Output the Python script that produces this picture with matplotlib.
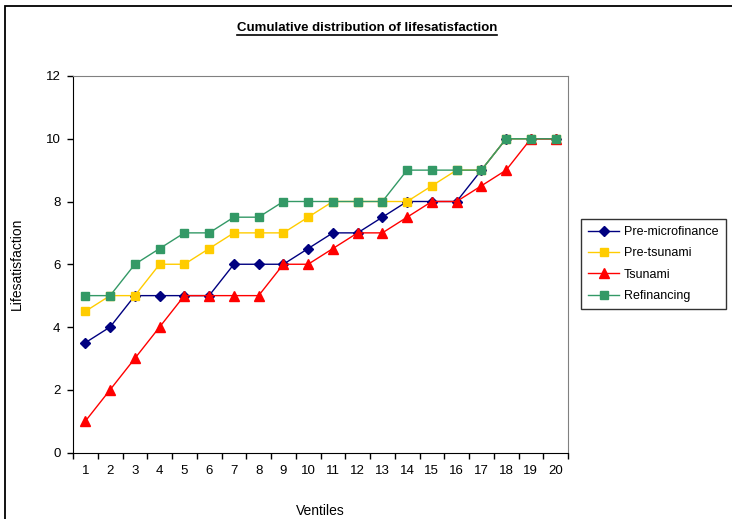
import numpy as np
import matplotlib.pyplot as plt
from matplotlib.lines import Line2D
from matplotlib.patches import Rectangle

plt.rcParams['font.family'] = ['Liberation Sans', 'DejaVu Sans']

ventiles = list(range(1, 21))
pre_micro = [3.5, 4, 5, 5, 5, 5, 6, 6, 6, 6.5, 7, 7, 7.5, 8, 8, 8, 9, 10, 10, 10]
pre_tsunami = [4.5, 5, 5, 6, 6, 6.5, 7, 7, 7, 7.5, 8, 8, 8, 8, 8.5, 9, 9, 10, 10, 10]
tsunami = [1, 2, 3, 4, 5, 5, 5, 5, 6, 6, 6.5, 7, 7, 7.5, 8, 8, 8.5, 9, 10, 10]
refinancing = [5, 5, 6, 6.5, 7, 7, 7.5, 7.5, 8, 8, 8, 8, 8, 9, 9, 9, 9, 10, 10, 10]
y_ticks = [0, 2, 4, 6, 8, 10, 12]

W, H = 732, 519
fig = plt.figure(figsize=(W / 100, H / 100), dpi=100)
ax = fig.add_axes([73 / W, 1 - 452.5 / H, (568 - 73) / W, (452.5 - 76) / H])

# outer chart border (runs off the right and bottom of the picture)
fig.add_artist(Rectangle((5 / W, -0.05), 1.2, 1 - 6 / H + 0.05, transform=fig.transFigure,
                         fill=False, edgecolor='black', lw=1.3))

ax.plot(ventiles, pre_micro, color='#000080', marker='D', ms=5, lw=1, label='Pre-microfinance')
ax.plot(ventiles, pre_tsunami, color='#FFCC00', marker='s', ms=6, lw=1, label='Pre-tsunami')
ax.plot(ventiles, tsunami, color='#FF0000', marker='^', ms=7, lw=1, label='Tsunami')
ax.plot(ventiles, refinancing, color='#339966', marker='s', ms=6, lw=1, label='Refinancing')

ax.set_xlim(0.5, 20.5)
ax.set_ylim(0, 12)
ax.set_yticks(y_ticks)
ax.set_xticks(ventiles)
ax.set_xticks(np.arange(0.5, 21, 1), minor=True)
ax.tick_params(axis='x', which='major', length=0, pad=9, labelsize=9.5)
ax.tick_params(axis='x', which='minor', length=4, direction='out', width=1)
ax.tick_params(axis='y', direction='out', length=4, width=1, pad=5, labelsize=9.5)

for s in ['top', 'right']:
    ax.spines[s].set_color('#808080')
for s in ['left', 'bottom']:
    ax.spines[s].set_color('black')

fig.text(17 / W, 1 - 264 / H, 'Lifesatisfaction', rotation=90, ha='center', va='center', fontsize=10)
fig.text(320 / W, 1 - 511 / H, 'Ventiles', ha='center', va='center', fontsize=10)
title = fig.text(367 / W, 1 - 28 / H, 'Cumulative distribution of lifesatisfaction',
                 ha='center', va='center', fontsize=9.5, fontweight='bold')

leg = ax.legend(loc='upper left', bbox_to_anchor=(581 / W, 1 - 219 / H), bbox_transform=fig.transFigure,
                fontsize=9, frameon=True, fancybox=False, edgecolor='black', handlelength=2.5,
                labelspacing=0.75, borderpad=0.55, handletextpad=0.4, borderaxespad=0)
leg.get_frame().set_linewidth(1)

# underline the title
fig.canvas.draw()
bb = title.get_window_extent()
fig.add_artist(Line2D([bb.x0 / W, bb.x1 / W], [(bb.y0 - 1) / H, (bb.y0 - 1) / H],
                      transform=fig.transFigure, color='black', lw=1.2))

fig.savefig('out.png', dpi=100)
